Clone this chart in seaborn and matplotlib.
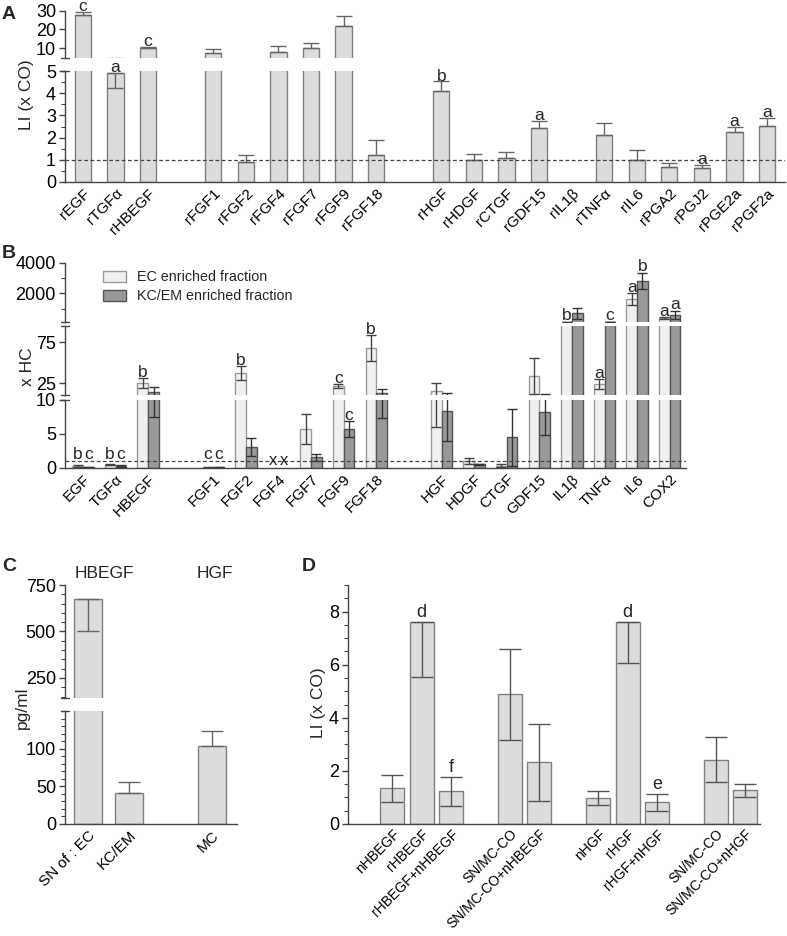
import numpy as np
import pandas as pd
import seaborn as sns
import matplotlib
matplotlib.use('Agg')
import matplotlib.pyplot as plt
from matplotlib.ticker import MultipleLocator, FixedLocator

nan = np.nan

# ---- panel A : proliferation with recombinant factors ----
a_labels = ['rEGF', 'rTGFα', 'rHBEGF', 'rFGF1', 'rFGF2', 'rFGF4', 'rFGF7', 'rFGF9', 'rFGF18',
            'rHGF', 'rHDGF', 'rCTGF', 'rGDF15', 'rIL1β', 'rTNFα', 'rIL6', 'rPGA2', 'rPGJ2',
            'rPGE2a', 'rPGF2a']
a_pos = [0, 1, 2, 4, 5, 6, 7, 8, 9, 11, 12, 13, 14, 15, 16, 17, 18, 19, 20, 21]
a_mean = [27.7, 4.92, 10.0, 7.4, 0.92, 8.2, 10.0, 22.1, 1.2,
          4.08, 1.0, 1.07, 2.42, nan, 2.1, 0.99, 0.66, 0.65, 2.24, 2.54]
a_lo = [0, 0.7, 0, 0, 0, 0, 0, 0, 0, 0, 0, 0, 0, nan, 0, 0, 0, 0, 0, 0]
a_hi = [1.8, 0, 0.5, 2.1, 0.28, 2.8, 3.0, 5.1, 0.68,
        0.45, 0.25, 0.3, 0.34, nan, 0.54, 0.45, 0.18, 0.1, 0.24, 0.33]
a_letters = ['c', 'a', 'c', '', '', '', '', '', '', 'b', '', '', 'a', '', '', '', '', 'a', 'a', 'a']

# ---- panel B : expression, two fractions ----
b_labels = ['EGF', 'TGFα', 'HBEGF', 'FGF1', 'FGF2', 'FGF4', 'FGF7', 'FGF9', 'FGF18',
            'HGF', 'HDGF', 'CTGF', 'GDF15', 'IL1β', 'TNFα', 'IL6', 'COX2']
b_pos = [0, 1, 2, 4, 5, 6, 7, 8, 9, 11, 12, 13, 14, 15, 16, 17, 18]
ec_mean = [0.3, 0.45, 25, 0.1, 37.5, nan, 5.7, 21.3, 68, 15.6, 1.02, 0.34, 33.5, 150, 24, 1613, 387]
ec_err = [0.15, 0.08, 6, 0.03, 8.5, nan, 2.2, 2.6, 16, 9.5, 0.5, 0.2, 22, 8, 6, 380, 65]
kc_mean = [0.1, 0.3, 14, 0.1, 3.07, nan, 1.6, 5.7, 12.8, 8.4, 0.54, 4.5, 8.2, 690, 150, 2820, 600]
kc_err = [0.04, 0.08, 6.5, 0.03, 1.3, nan, 0.5, 1.15, 5.5, 4.4, 0.05, 4.2, 3.3, 340, 5, 520, 260]
ec_letters = ['b', 'b', 'b', 'c', 'b', '', '', 'c', 'b', '', '', '', '', 'b', 'a', 'a', 'a']
kc_letters = ['c', 'c', '', 'c', '', '', '', 'c', '', '', '', '', '', '', 'c', 'b', 'a']
fractions = ['EC enriched fraction', 'KC/EM enriched fraction']

# ---- panel C : secreted protein ----
c_labels = ['SN of : EC', 'KC/EM', 'MC']
c_pos = [0, 1, 3]
c_mean = [675, 41, 103]
c_lo = [170, 0, 0]
c_hi = [0, 15, 21]

# ---- panel D : neutralisation ----
d_labels = ['nHBEGF', 'rHBEGF', 'rHBEGF+nHBEGF', 'SN/MC-CO', 'SN/MC-CO+nHBEGF',
            'nHGF', 'rHGF', 'rHGF+nHGF', 'SN/MC-CO', 'SN/MC-CO+nHGF']
d_pos = [0, 1, 2, 4, 5, 7, 8, 9, 11, 12]
d_mean = [1.34, 7.62, 1.23, 4.9, 2.32, 0.97, 7.62, 0.82, 2.42, 1.27]
d_low = [0.83, 5.55, 0.67, 3.18, 0.87, 0.72, 6.05, 0.48, 1.58, 1.0]
d_high = [1.83, 7.62, 1.77, 6.6, 3.78, 1.23, 7.62, 1.13, 3.27, 1.5]
d_letters = ['', 'd', 'f', '', '', '', 'd', 'e', '', '']

sns.set_style('ticks')
plt.rcParams['font.family'] = ['Liberation Sans', 'DejaVu Sans']
plt.rcParams['axes.edgecolor'] = '#444444'
plt.rcParams['xtick.color'] = '#444444'
plt.rcParams['ytick.color'] = '#444444'
plt.rcParams['xtick.labelcolor'] = 'black'
plt.rcParams['ytick.labelcolor'] = 'black'
plt.rcParams['axes.linewidth'] = 1.0

W, H = 787, 936
fig = plt.figure(figsize=(W / 100, H / 100), dpi=100)

bar_grey = '#dcdcdc'
bar_edge = '#808080'
ec_col = '#f0f0f0'
kc_col = '#999999'
TICK = 13
XT = 11
LET = 12.5
LAB = 12.5


def px_axes(x0, x1, ytop, ybot):
    ax = fig.add_axes([x0 / W, 1 - ybot / H, (x1 - x0) / W, (ybot - ytop) / H])
    ax.set_facecolor('none')
    return ax


def seg(ax, ylim, bottom=False):
    ax.set_ylim(*ylim)
    sns.despine(ax=ax, bottom=not bottom)
    if not bottom:
        ax.tick_params(axis='x', bottom=False, labelbottom=False)
    ax.tick_params(axis='y', labelsize=TICK, length=4.5, width=1, pad=2)
    ax.tick_params(axis='y', which='minor', length=3, width=0.8)
    ax.set_xlabel('')
    ax.set_ylabel('')


def seg_err(ax, x, m, lo, hi, ylim, color, cap):
    # only the error bars that reach into this segment
    x, m, lo, hi = (np.asarray(v, dtype=float) for v in (x, m, lo, hi))
    keep = (m + hi > ylim[0]) & (m - lo < ylim[1])
    if keep.any():
        ax.errorbar(x[keep], m[keep], yerr=[lo[keep], hi[keep]], fmt='none', ecolor=color,
                    elinewidth=1, capsize=cap, capthick=1)


def brk(ax, y, wpx):
    # short dash where a spine segment is cut
    d = 4 / wpx
    ax.plot([-d, d], [y, y], transform=ax.transAxes, color='#444444', lw=1, clip_on=False)


def letter(ax, x, y, s, size=LET, dy=-1.2):
    if s:
        ax.annotate(s, (x, y), xytext=(0, dy), textcoords='offset points', ha='center',
                    va='bottom', fontsize=size, annotation_clip=False)


def xlabels(ax, pos, labels, size=XT, pad=3):
    ax.set_xticks(pos)
    ax.set_xticklabels(labels, rotation=45, ha='right', rotation_mode='anchor', fontsize=size)
    ax.tick_params(axis='x', length=0, pad=pad)


# ================= A =================
axA_top = px_axes(65, 785, 10.7, 57.7)
axA_bot = px_axes(65, 785, 71, 182)
a_df = pd.DataFrame({'pos': a_pos, 'li': a_mean})
for ax, lim in ((axA_top, (5, 30)), (axA_bot, (0, 5))):
    sns.barplot(data=a_df, x='pos', y='li', native_scale=True, width=0.5, color=bar_grey,
                saturation=1, edgecolor=bar_edge, linewidth=1, errorbar=None, ax=ax)
    seg_err(ax, a_pos, a_mean, a_lo, a_hi, lim, '#666666', 6)
    ax.set_xlim(-0.55, 21.55)
seg(axA_top, (5, 30))
axA_top.yaxis.set_major_locator(FixedLocator([10, 20, 30]))
seg(axA_bot, (0, 5), bottom=True)
axA_bot.yaxis.set_major_locator(FixedLocator([0, 1, 2, 3, 4, 5]))
axA_bot.yaxis.set_minor_locator(MultipleLocator(0.5))
axA_bot.axhline(1, ls=(0, (3, 2)), color='#444444', lw=0.9)
xlabels(axA_bot, a_pos, a_labels)
brk(axA_top, 0, 720)
brk(axA_bot, 1, 720)
for x, m, h, s in zip(a_pos, a_mean, a_hi, a_letters):
    if s:
        top = m + h
        letter(axA_top if top > 5 else axA_bot, x, top, s, dy=-1.5)

# ================= B =================
axB_top = px_axes(65, 686, 262.7, 322.4)
axB_mid = px_axes(65, 686, 326, 395.3)
axB_bot = px_axes(65, 686, 400, 468)
n = len(b_pos)
b_df = pd.DataFrame({'pos': b_pos * 2, 'val': ec_mean + kc_mean,
                     'fraction': [fractions[0]] * n + [fractions[1]] * n})
b_pal = {fractions[0]: ec_col, fractions[1]: kc_col}
off = 0.165
ec_x = np.array(b_pos) - off
kc_x = np.array(b_pos) + off
for ax, lim in ((axB_top, (100, 4000)), (axB_mid, (10, 95)), (axB_bot, (0, 10))):
    sns.barplot(data=b_df, x='pos', y='val', hue='fraction', hue_order=fractions,
                native_scale=True, width=0.66, palette=b_pal, saturation=1,
                edgecolor='#555555', linewidth=1, errorbar=None, ax=ax,
                legend=(ax is axB_top))
    for p in ax.patches:
        if p.get_facecolor()[0] > 0.9:
            p.set_edgecolor('#9a9a9a')
    seg_err(ax, ec_x, ec_mean, ec_err, ec_err, lim, '#444444', 3.5)
    seg_err(ax, kc_x, kc_mean, kc_err, kc_err, lim, '#333333', 3.5)
    ax.set_xlim(-0.55, 18.5)
seg(axB_top, (100, 4000))
axB_top.yaxis.set_major_locator(FixedLocator([2000, 4000]))
axB_top.yaxis.set_minor_locator(FixedLocator([1000, 3000]))
seg(axB_mid, (10, 95))
axB_mid.yaxis.set_major_locator(FixedLocator([25, 75]))
seg(axB_bot, (0, 10), bottom=True)
axB_bot.yaxis.set_major_locator(FixedLocator([0, 5, 10]))
axB_bot.axhline(1, ls=(0, (3, 2)), color='#444444', lw=0.9)
xlabels(axB_bot, b_pos, b_labels)
brk(axB_top, 0, 621)
brk(axB_mid, 1, 621)
brk(axB_mid, 0, 621)
brk(axB_bot, 1, 621)
sns.move_legend(axB_top, loc='upper left', bbox_to_anchor=(103 / W, 1 - 270 / H),
                bbox_transform=fig.transFigure, frameon=False, title=None, fontsize=10.3,
                handlelength=1.6, handleheight=0.8, labelspacing=0.35, borderpad=0,
                borderaxespad=0, handletextpad=0.8)
for p in axB_top.get_legend().get_patches():
    if p.get_facecolor()[0] > 0.9:
        p.set_edgecolor('#9a9a9a')


def b_seg(v):
    if v > 95:
        return axB_top
    if v > 10:
        return axB_mid
    return axB_bot


# letters of tiny bars sit just above the dashed baseline
for x, m, e, s in zip(ec_x, ec_mean, ec_err, ec_letters):
    if s:
        letter(b_seg(m + e), x, max(m + e, 1.2), s)
for x, m, e, s in zip(kc_x, kc_mean, kc_err, kc_letters):
    if s:
        letter(b_seg(m + e), x, max(m + e, 1.2), s)
# FGF4 not detected
for dx in (-off, off):
    axB_bot.text(6 + dx, 1.05, 'x', ha='center', va='center', fontsize=12)

# ================= C =================
axC_top = px_axes(65, 237, 585, 698)
axC_bot = px_axes(65, 237, 711, 824)
c_df = pd.DataFrame({'pos': c_pos, 'conc': c_mean})
for ax, lim in ((axC_top, (142, 750)), (axC_bot, (0, 150))):
    sns.barplot(data=c_df, x='pos', y='conc', native_scale=True, width=0.67, color=bar_grey,
                saturation=1, edgecolor=bar_edge, linewidth=1, errorbar=None, ax=ax)
    seg_err(ax, c_pos, c_mean, c_lo, c_hi, lim, '#666666', 8)
    ax.set_xlim(-0.55, 3.6)
seg(axC_top, (142, 750))
axC_top.yaxis.set_major_locator(FixedLocator([250, 500, 750]))
axC_top.yaxis.set_minor_locator(MultipleLocator(50))
seg(axC_bot, (0, 150), bottom=True)
axC_bot.yaxis.set_major_locator(FixedLocator([0, 50, 100]))
axC_bot.yaxis.set_minor_locator(MultipleLocator(10))
xlabels(axC_bot, c_pos, c_labels)
brk(axC_top, 0, 172)
brk(axC_bot, 1, 172)
fig.text(104 / W, 1 - 574 / H, 'HBEGF', ha='center', va='center', fontsize=LAB)
fig.text(215 / W, 1 - 574 / H, 'HGF', ha='center', va='center', fontsize=LAB)

# ================= D =================
axD = px_axes(348, 760, 585, 824)
d_df = pd.DataFrame({'pos': d_pos, 'li': d_mean})
sns.barplot(data=d_df, x='pos', y='li', native_scale=True, width=0.82, color=bar_grey,
            saturation=1, edgecolor=bar_edge, linewidth=1, errorbar=None, ax=axD)
d_err = [np.array(d_mean) - np.array(d_low), np.array(d_high) - np.array(d_mean)]
axD.errorbar(d_pos, d_mean, yerr=d_err, fmt='none', ecolor='#555555',
             elinewidth=1, capsize=8, capthick=1)
axD.set_xlim(-1.5, 12.5)
seg(axD, (0, 9), bottom=True)
axD.yaxis.set_major_locator(MultipleLocator(2))
axD.yaxis.set_minor_locator(MultipleLocator(0.5))
xlabels(axD, d_pos, d_labels, size=10, pad=2)
for x, h, s in zip(d_pos, d_high, d_letters):
    letter(axD, x, h, s, size=13, dy=0.5)

# ---- axis titles and panel letters ----
fig.text(27 / W, 1 - 95 / H, 'LI (x CO)', rotation=90, ha='center', va='center', fontsize=LAB)
fig.text(27 / W, 1 - 367 / H, 'x HC', rotation=90, ha='center', va='center', fontsize=LAB)
fig.text(22 / W, 1 - 708 / H, 'pg/ml', rotation=90, ha='center', va='center', fontsize=LAB)
fig.text(318 / W, 1 - 703 / H, 'LI (x CO)', rotation=90, ha='center', va='center', fontsize=LAB)
for s, x, y in [('A', 2, 6), ('B', 2, 245), ('C', 2, 558), ('D', 302, 558)]:
    fig.text(x / W, 1 - y / H, s, ha='left', va='top', fontsize=14, fontweight='bold')

fig.savefig('out.png', dpi=100)
